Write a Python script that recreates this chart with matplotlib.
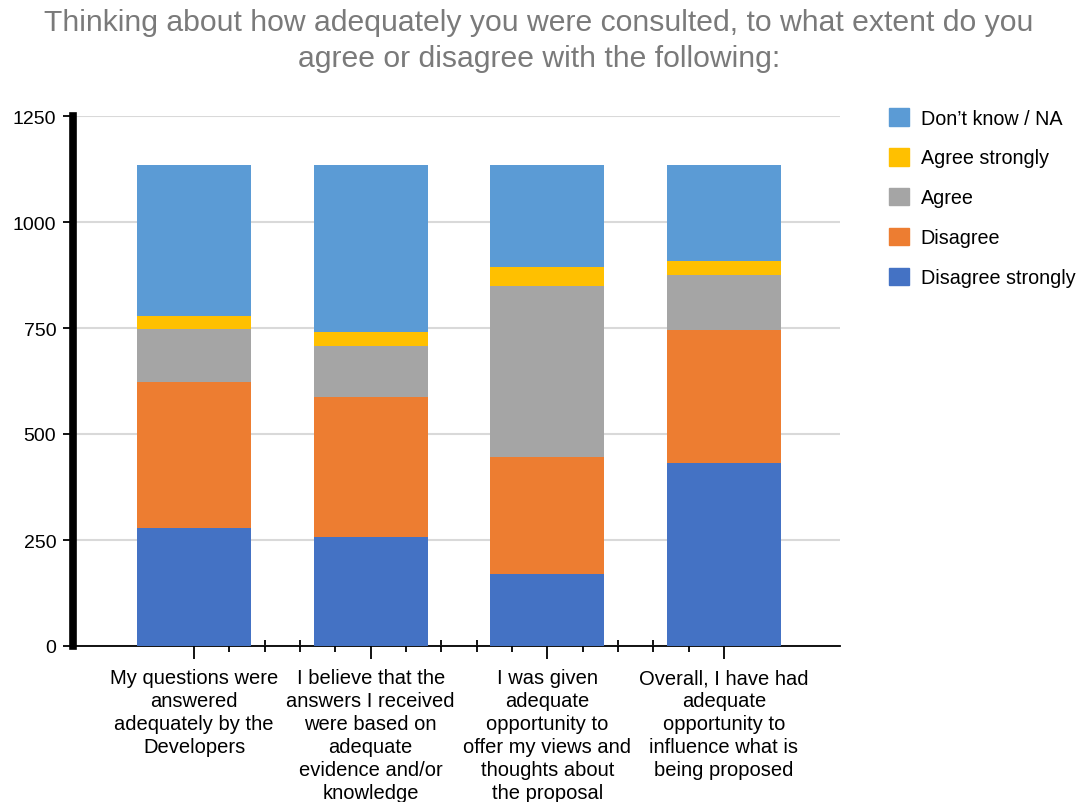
import matplotlib.pyplot as plt
from matplotlib.patches import Patch
from matplotlib.ticker import FixedLocator
import numpy as np

plt.rcParams['font.family'] = ['Liberation Sans', 'DejaVu Sans']

questions = [
    "My questions were\nanswered\nadequately by the\nDevelopers",
    "I believe that the\nanswers I received\nwere based on\nadequate\nevidence and/or\nknowledge",
    "I was given\nadequate\nopportunity to\noffer my views and\nthoughts about\nthe proposal",
    "Overall, I have had\nadequate\nopportunity to\ninfluence what is\nbeing proposed",
]

# responses per statement, stacked bottom to top
disagree_strongly = [278, 257, 170, 431]
disagree = [345, 330, 276, 315]
agree = [125, 121, 404, 130]
agree_strongly = [31, 32, 45, 32]
dont_know = [355, 394, 239, 226]

series = [
    ("Disagree strongly", disagree_strongly, "#4472C4"),
    ("Disagree", disagree, "#ED7D31"),
    ("Agree", agree, "#A5A5A5"),
    ("Agree strongly", agree_strongly, "#FFC000"),
    ("Don\u2019t know / NA", dont_know, "#5B9BD5"),
]

my_dpi = 100
fig = plt.figure(figsize=(1078 / my_dpi, 803 / my_dpi), dpi=my_dpi)
ax = fig.add_axes([73 / 1078, 1 - 647 / 803, 767 / 1078, 530 / 803])

x = np.arange(len(questions))
bottom = np.zeros(len(questions))
for name, vals, color in series:
    ax.bar(x, vals, width=0.645, bottom=bottom, color=color, label=name,
           zorder=3, linewidth=0)
    bottom += np.array(vals)

ax.set_xlim(-0.685, 3.657)
ax.set_ylim(0, 1250)
ax.set_yticks([0, 250, 500, 750, 1000, 1250])
ax.yaxis.grid(True, color="#d9d9d9", linewidth=1.5, zorder=0)

for side in ["top", "right"]:
    ax.spines[side].set_visible(False)
ax.spines["left"].set_linewidth(5.5)
ax.spines["bottom"].set_linewidth(1.3)

ax.tick_params(axis="y", length=7, width=1.3, labelsize=14, pad=5)
ax.set_xticks(x)
ax.set_xticklabels(questions, fontsize=14.5, linespacing=1.26)
# minor ticks every fifth of a category, from first to last bar
ax.xaxis.set_minor_locator(FixedLocator(np.arange(0, 3.01, 0.2)))
ax.tick_params(axis="x", which="major", direction="inout", length=19,
               width=1.3, pad=6.5)
ax.tick_params(axis="x", which="minor", direction="inout", length=9,
               width=1.3)

fig.text(0.5, 1 - 9 / 803,
         "Thinking about how adequately you were consulted, to what extent do you\nagree or disagree with the following:",
         ha="center", va="top", fontsize=21.7, color="#7a7a7a", linespacing=1.38)

handles = [Patch(color=c, label=n) for n, _, c in series][::-1]
fig.legend(handles=handles, loc="upper left", bbox_to_anchor=(889 / 1078, 1 - 109 / 803),
           frameon=False, fontsize=14.2, handlelength=1.0, handleheight=1.0,
           labelspacing=1.03, handletextpad=0.6, borderpad=0, borderaxespad=0)

plt.savefig("out.png", dpi=my_dpi)
